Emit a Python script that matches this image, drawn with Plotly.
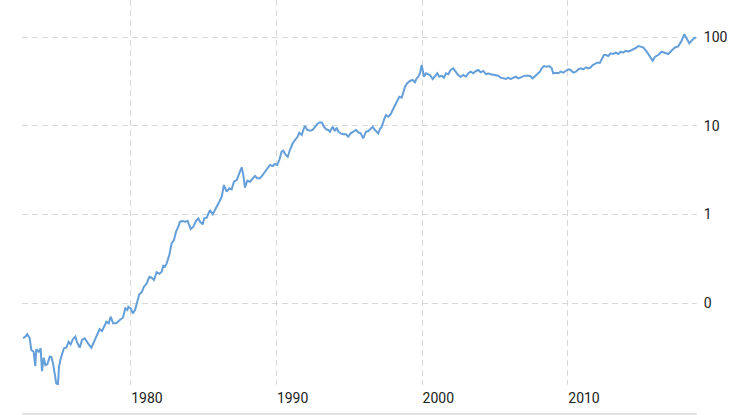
import plotly.graph_objects as go

# decimal year of each observation
years = [
    1972.61, 1972.77, 1972.90, 1973.07, 1973.18, 1973.34, 1973.45, 1973.52, 1973.69, 1973.82,
    1973.91, 1974.03, 1974.14, 1974.28, 1974.44, 1974.55, 1974.67, 1974.78, 1974.89, 1975.01,
    1975.08, 1975.20, 1975.28, 1975.42, 1975.58, 1975.74, 1975.88, 1976.04, 1976.20, 1976.31,
    1976.50, 1976.66, 1976.84, 1977.00, 1977.12, 1977.30, 1977.48, 1977.71, 1977.87, 1978.03,
    1978.22, 1978.33, 1978.49, 1978.63, 1978.79, 1979.01, 1979.25, 1979.47, 1979.63, 1979.77,
    1979.84, 1980.00, 1980.14, 1980.30, 1980.45, 1980.59, 1980.75, 1980.91, 1981.10, 1981.28,
    1981.44, 1981.60, 1981.78, 1981.96, 1982.13, 1982.24, 1982.35, 1982.47, 1982.65, 1982.81,
    1982.97, 1983.11, 1983.27, 1983.38, 1983.57, 1983.73, 1983.91, 1984.12, 1984.30, 1984.48,
    1984.64, 1984.76, 1984.94, 1985.05, 1985.22, 1985.33, 1985.44, 1985.63, 1985.79, 1985.94,
    1986.08, 1986.25, 1986.40, 1986.59, 1986.77, 1986.93, 1987.09, 1987.28, 1987.39, 1987.50,
    1987.62, 1987.73, 1987.84, 1988.00, 1988.19, 1988.37, 1988.53, 1988.69, 1988.87, 1989.06,
    1989.22, 1989.38, 1989.56, 1989.75, 1989.90, 1990.06, 1990.20, 1990.36, 1990.47, 1990.64,
    1990.78, 1990.93, 1991.12, 1991.28, 1991.43, 1991.57, 1991.74, 1991.85, 1991.96, 1992.12,
    1992.31, 1992.49, 1992.65, 1992.81, 1992.99, 1993.13, 1993.27, 1993.41, 1993.56, 1993.68,
    1993.86, 1994.02, 1994.14, 1994.25, 1994.41, 1994.59, 1994.78, 1994.93, 1995.10, 1995.28,
    1995.46, 1995.62, 1995.79, 1995.96, 1996.15, 1996.31, 1996.47, 1996.61, 1996.77, 1996.88,
    1996.99, 1997.11, 1997.23, 1997.38, 1997.52, 1997.68, 1997.84, 1997.98, 1998.14, 1998.30,
    1998.44, 1998.60, 1998.71, 1998.83, 1998.98, 1999.17, 1999.35, 1999.51, 1999.63, 1999.74,
    1999.86, 1999.97, 2000.04, 2000.13, 2000.27, 2000.43, 2000.54, 2000.73, 2000.89, 2001.04,
    2001.18, 2001.35, 2001.50, 2001.64, 2001.80, 2001.96, 2002.14, 2002.33, 2002.48, 2002.65,
    2002.83, 2003.01, 2003.17, 2003.34, 2003.51, 2003.70, 2003.86, 2004.02, 2004.20, 2004.39,
    2004.54, 2004.71, 2004.89, 2005.07, 2005.23, 2005.39, 2005.57, 2005.76, 2005.92, 2006.08,
    2006.26, 2006.44, 2006.60, 2006.84, 2007.06, 2007.29, 2007.41, 2007.59, 2007.75, 2007.91,
    2008.09, 2008.21, 2008.37, 2008.55, 2008.73, 2008.90, 2009.00, 2009.19, 2009.35, 2009.51,
    2009.69, 2009.88, 2010.03, 2010.20, 2010.38, 2010.56, 2010.72, 2010.89, 2011.06, 2011.25,
    2011.41, 2011.57, 2011.71, 2011.87, 2012.02, 2012.21, 2012.39, 2012.48, 2012.62, 2012.78,
    2012.94, 2013.12, 2013.30, 2013.47, 2013.63, 2013.81, 2013.99, 2014.15, 2014.40, 2014.68,
    2014.84, 2015.18, 2015.42, 2015.64, 2015.83, 2015.99, 2016.21, 2016.44, 2016.67, 2016.90,
    2017.13, 2017.36, 2017.58, 2017.82, 2018.00, 2018.16, 2018.34, 2018.50, 2018.66, 2018.80,
]

# price at each observation
prices = [
    0.0401, 0.0418, 0.0445, 0.0401, 0.0296, 0.0283, 0.0195, 0.0303, 0.0283, 0.0309,
    0.0171, 0.0242, 0.0200, 0.0204, 0.0248, 0.0248, 0.0209, 0.0155, 0.0124, 0.0121,
    0.0191, 0.0238, 0.0259, 0.0309, 0.0314, 0.0366, 0.0343, 0.0394, 0.0418, 0.0366,
    0.0314, 0.0384, 0.0401, 0.0373, 0.0343, 0.0314, 0.0366, 0.0429, 0.0510, 0.0484,
    0.0556, 0.0617, 0.0592, 0.0703, 0.0592, 0.0592, 0.0644, 0.0684, 0.0873, 0.0836,
    0.0910, 0.0873, 0.0767, 0.0836, 0.1038, 0.1256, 0.1324, 0.1531, 0.1671, 0.1986,
    0.1936, 0.1824, 0.2228, 0.2148, 0.2259, 0.2642, 0.2576, 0.2812, 0.3491, 0.4732,
    0.5152, 0.6397, 0.7278, 0.830, 0.845, 0.830, 0.845, 0.686, 0.728, 0.845,
    0.906, 0.830, 0.774, 0.906, 0.920, 1.032, 1.124, 1.005, 1.124, 1.225,
    1.393, 1.589, 2.153, 1.808, 1.977, 1.923, 2.344, 2.449, 2.673, 3.041,
    3.412, 2.793, 2.005, 2.404, 2.344, 2.564, 2.723, 2.564, 2.564, 2.793,
    3.041, 3.321, 3.622, 3.524, 3.715, 3.622, 4.121, 5.117, 5.248, 4.699,
    4.487, 5.346, 6.368, 6.934, 7.430, 8.375, 7.889, 8.995, 9.98, 8.995,
    8.83, 8.995, 9.64, 10.50, 10.99, 10.86, 9.80, 9.16, 8.995, 8.60,
    9.80, 8.75, 9.55, 8.60, 8.24, 8.04, 8.04, 7.55, 8.24, 8.60,
    8.99, 8.47, 8.24, 7.24, 8.60, 8.75, 9.23, 9.80, 8.99, 8.47,
    8.24, 9.23, 9.80, 11.66, 13.27, 12.70, 13.52, 15.11, 17.22, 18.75,
    21.37, 20.80, 24.32, 27.69, 30.27, 32.14, 32.96, 31.05, 34.44, 35.89,
    39.26, 48.67, 42.76, 35.89, 39.26, 38.21, 37.54, 33.82, 36.90, 39.26,
    35.89, 36.90, 34.99, 39.26, 38.21, 42.76, 44.67, 40.93, 37.54, 35.89,
    37.54, 35.89, 39.26, 40.93, 39.26, 41.69, 42.76, 40.27, 41.69, 38.21,
    39.26, 38.21, 37.54, 36.90, 36.90, 34.99, 34.44, 33.82, 34.99, 33.82,
    34.99, 35.89, 34.44, 35.89, 36.90, 36.90, 36.56, 34.44, 36.56, 39.26,
    40.93, 44.67, 47.42, 46.56, 47.42, 44.67, 39.26, 39.86, 39.26, 40.93,
    39.86, 41.98, 43.55, 42.76, 39.86, 40.93, 43.55, 44.67, 43.55, 45.85,
    44.67, 45.85, 48.69, 50.0, 51.68, 51.68, 57.94, 63.12, 63.12, 61.5,
    65.97, 64.78, 67.0, 64.78, 68.8, 67.0, 70.6, 68.8, 71.9, 75.7,
    79.8, 77.1, 68.8, 60.4, 54.4, 60.4, 63.1, 68.8, 67.0, 64.8,
    71.0, 76.7, 78.7, 92.0, 108.1, 94.9, 85.5, 91.5, 97.4, 100.0,
]

x_tick_vals = [1980, 1990, 2000, 2010]
x_tick_text = ["1980", "1990", "2000", "2010"]
y_tick_vals = [0.1, 1, 10, 100]
y_tick_text = ["0", "1", "10", "100"]

fig = go.Figure()
fig.add_trace(go.Scatter(
    x=years, y=prices, mode="lines",
    line=dict(color="#659fd9", width=2),
    hoverinfo="x+y", showlegend=False,
))

grid = dict(showgrid=True, gridcolor="#d8d8d8", gridwidth=1, griddash="6px,4px",
            zeroline=False, showline=False)

fig.update_layout(
    width=730, height=415,
    margin=dict(l=22, r=33, t=0, b=30, pad=0),
    paper_bgcolor="white", plot_bgcolor="white",
    font=dict(family="Roboto, sans-serif", size=14, color="#222"),
    xaxis=dict(
        range=[1972.54, 2018.87], tickvals=x_tick_vals, ticktext=x_tick_text,
        ticks="outside", ticklen=8, tickcolor="rgba(0,0,0,0)",
        ticklabelposition="outside right", automargin=False, fixedrange=True,
        **grid,
    ),
    yaxis=dict(
        type="log", range=[-1.924, 2.421], side="right",
        tickvals=y_tick_vals, ticktext=y_tick_text,
        ticks="outside", ticklen=3, tickcolor="rgba(0,0,0,0)",
        automargin=False, fixedrange=True,
        **grid,
    ),
    shapes=[dict(type="line", xref="paper", yref="paper",
                 x0=0, x1=1, y0=-0.0753, y1=-0.0753,
                 line=dict(color="#d8d8d8", width=1.5))],
)

fig.write_html(
    "out.html",
    config={"displayModeBar": False},
    post_script="document.body.style.margin='0';document.body.style.overflow='hidden';",
)
